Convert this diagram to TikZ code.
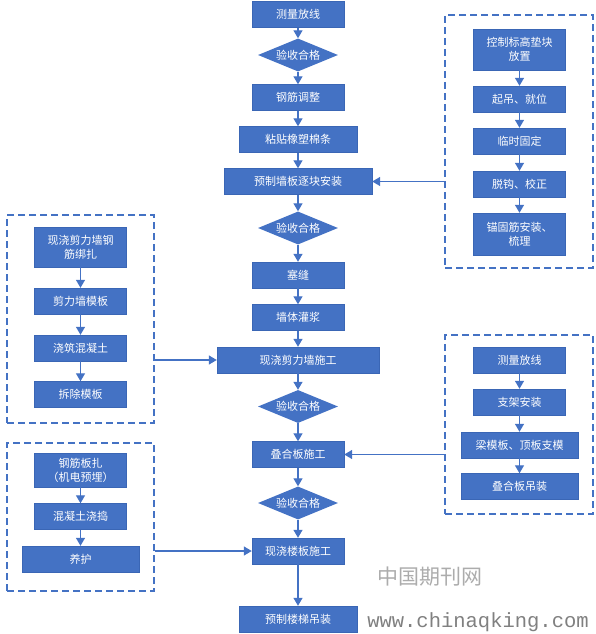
\documentclass[tikz,border=0pt]{standalone}
\usepackage{fontspec}
\usetikzlibrary{arrows.meta,positioning,shapes.geometric}
\newfontfamily\cjk{Noto Sans CJK SC}
\newfontfamily\wmfont{Liberation Mono}
\definecolor{flowBlue}{HTML}{4472C4}
\definecolor{flowEdge}{HTML}{3A66B5}
\newcommand{\boxfont}{\cjk\fontsize{11}{14}\selectfont}
\tikzset{
  procbox/.style={draw=flowEdge,fill=flowBlue,text=white,font=\boxfont,
    minimum width=92pt,minimum height=26pt,inner sep=2pt,align=center},
  checkdia/.style={diamond,aspect=2.5,fill=flowBlue,text=white,font=\boxfont,
    minimum width=80pt,minimum height=33pt,inner sep=0pt},
  groupbox/.style={draw=flowBlue,line width=1.3pt,dash pattern=on 7pt off 4pt},
  flowarrow/.style={draw=flowBlue,line width=1.3pt,-{Triangle[width=9pt,length=8pt]}}
}

\begin{document}
\begin{tikzpicture}[x=1pt,y=-1pt]
  \useasboundingbox (0,0) rectangle (596,634);

  % main column
  \node[procbox] (clfx) at (298,14.5) {测量放线};
  \node[checkdia] (ys1) at (298,55) {验收合格};
  \node[procbox] (gjtz) at (298,97.5) {钢筋调整};
  \node[procbox,minimum width=118pt] (ztxm) at (298,139.5) {粘贴橡塑棉条};
  \node[procbox,minimum width=148pt] (yzqb) at (298,181.5) {预制墙板逐块安装};
  \node[checkdia] (ys2) at (298,228) {验收合格};
  \node[procbox] (sf) at (298,275) {塞缝};
  \node[procbox] (qtgj) at (298,317.5) {墙体灌浆};
  \node[procbox,minimum width=162pt] (xjjlq) at (298,360) {现浇剪力墙施工};
  \node[checkdia] (ys3) at (298,406.5) {验收合格};
  \node[procbox] (dhb) at (298,454.5) {叠合板施工};
  \node[checkdia] (ys4) at (298,503) {验收合格};
  \node[procbox] (xjlb) at (298,551) {现浇楼板施工};
  \node[procbox,minimum width=118pt] (yzlt) at (298,619) {预制楼梯吊装};

  \foreach \a/\b in {clfx/ys1,ys1/gjtz,gjtz/ztxm,ztxm/yzqb,yzqb/ys2,ys2/sf,sf/qtgj,
      qtgj/xjjlq,xjjlq/ys3,ys3/dhb,dhb/ys4,ys4/xjlb,xjlb/yzlt}
    \draw[flowarrow] (\a) -- (\b);

  % wall panel installation
  \node[groupbox,minimum width=148pt,minimum height=253pt] (grpqb) at (519,141.5) {};
  \node[procbox,minimum height=41pt] (kzbg) at (519.5,49.5) {控制标高垫块\\放置};
  \node[procbox] (qdjw) at (519.5,99) {起吊、就位};
  \node[procbox] (lsgd) at (519.5,141) {临时固定};
  \node[procbox] (tgjz) at (519.5,184) {脱钩、校正};
  \node[procbox,minimum height=42pt] (mgjaz) at (519.5,234) {锚固筋安装、\\梳理};
  \foreach \a/\b in {kzbg/qdjw,qdjw/lsgd,lsgd/tgjz,tgjz/mgjaz}
    \draw[flowarrow] (\a) -- (\b);
  \draw[flowarrow] (grpqb.west |- yzqb.east) -- (yzqb.east);

  % shear wall
  \node[groupbox,minimum width=147pt,minimum height=208pt] (grpjlq) at (80.5,319) {};
  \node[procbox,minimum height=40pt] (jlqgj) at (80.5,247) {现浇剪力墙钢\\筋绑扎};
  \node[procbox] (jlqmb) at (80.5,301) {剪力墙模板};
  \node[procbox] (jzhnt) at (80.5,348) {浇筑混凝土};
  \node[procbox] (ccmb) at (80.5,394.5) {拆除模板};
  \foreach \a/\b in {jlqgj/jlqmb,jlqmb/jzhnt,jzhnt/ccmb}
    \draw[flowarrow] (\a) -- (\b);
  \draw[flowarrow] (grpjlq.east |- xjjlq.west) -- (xjjlq.west);

  % composite slab
  \node[groupbox,minimum width=148pt,minimum height=179pt] (grpdhb) at (519,424.5) {};
  \node[procbox] (clfx2) at (519.5,360) {测量放线};
  \node[procbox] (zjaz) at (519.5,402) {支架安装};
  \node[procbox,minimum width=117pt] (lmbzm) at (519.5,445) {梁模板、顶板支模};
  \node[procbox,minimum width=117pt] (dhbdz) at (519.5,486.5) {叠合板吊装};
  \foreach \a/\b in {clfx2/zjaz,zjaz/lmbzm,lmbzm/dhbdz}
    \draw[flowarrow] (\a) -- (\b);
  \draw[flowarrow] (grpdhb.west |- dhb.east) -- (dhb.east);

  % cast-in-place floor slab
  \node[groupbox,minimum width=147pt,minimum height=148pt] (grplb) at (80.5,517) {};
  \node[procbox,minimum height=34pt] (gjbz) at (80.5,470) {钢筋板扎\\（机电预埋）};
  \node[procbox] (hntjd) at (80.5,516.5) {混凝土浇捣};
  \node[procbox,minimum width=117pt] (yhu) at (80.5,559) {养护};
  \foreach \a/\b in {gjbz/hntjd,hntjd/yhu}
    \draw[flowarrow] (\a) -- (\b);
  \draw[flowarrow] (grplb.east |- xjlb.west) -- (xjlb.west);

  % watermark
  \node[text=gray!65,font=\cjk\fontsize{21}{24}\selectfont] (wmcn) at (430,577) {中国期刊网};
  \node[text=gray,font=\wmfont\fontsize{20.5}{22}\selectfont] (wmurl) at (478,622) {www.chinaqking.com};
\end{tikzpicture}
\end{document}
